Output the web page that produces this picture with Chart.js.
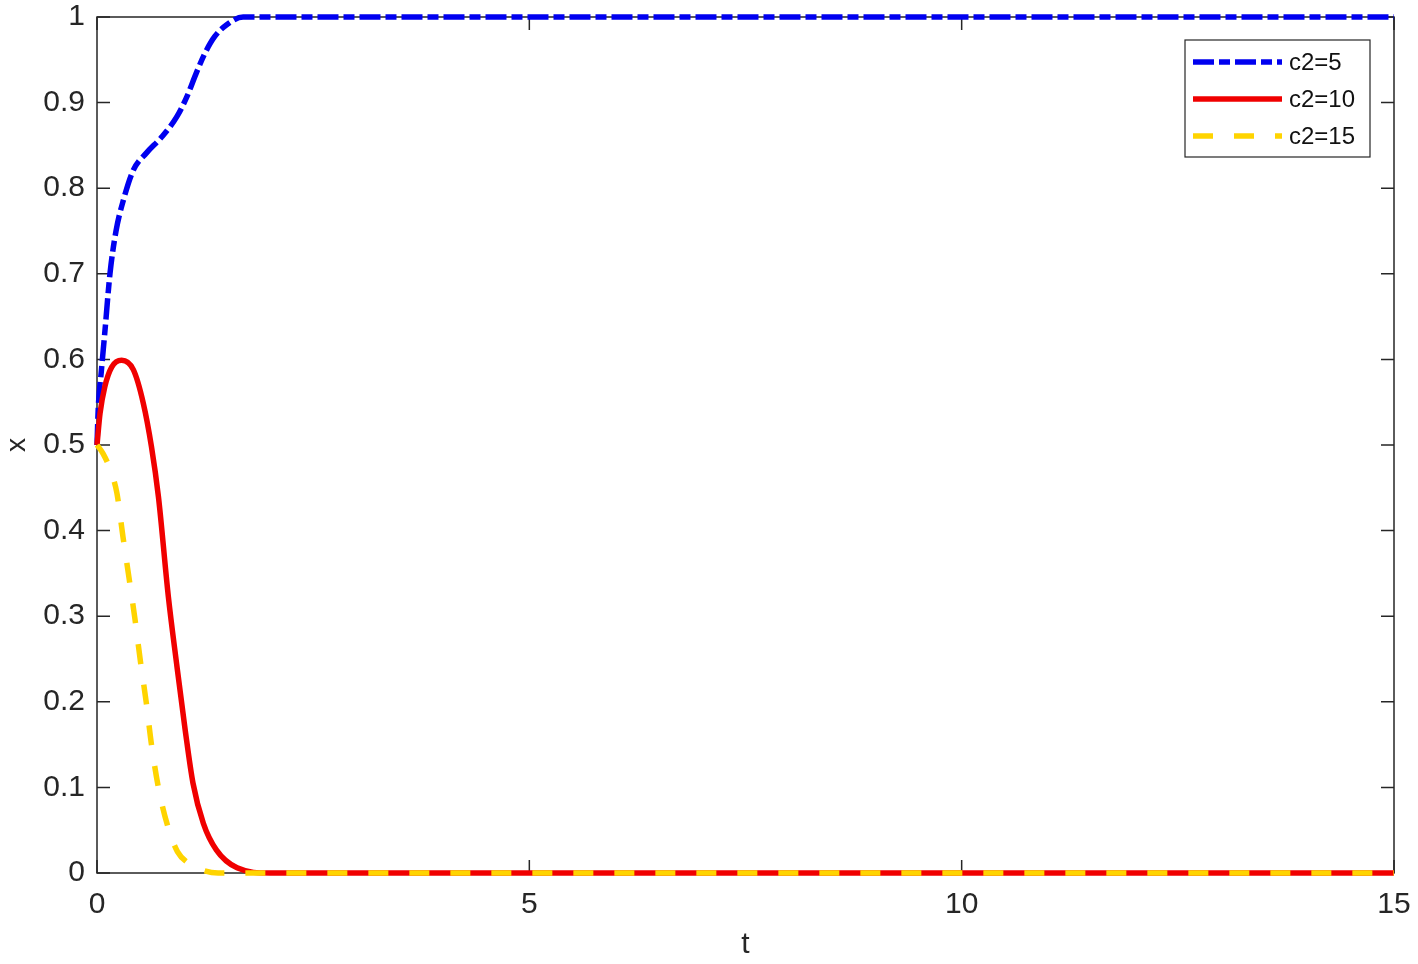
<!DOCTYPE html>
<html lang="en">
<head>
  <meta charset="UTF-8" />
  <title>x over t for c2</title>
  <script src="https://cdn.jsdelivr.net/npm/chart.js"></script>
  <style>
    body { margin: 0; background: #fff; }
    #wrap { width: 1418px; height: 964px; }
  </style>
</head>
<body>
  <div id="wrap"><canvas id="plot" width="1418" height="964"></canvas></div>

  <script>
    // c2=5
    const blueT = [0, 0.015, 0.05, 0.09, 0.15, 0.22, 0.305, 0.42, 0.57, 0.75, 0.92, 1.04, 1.15, 1.25, 1.36, 1.50, 1.69, 2.0, 15];
    const blueX = [0.5, 0.544, 0.586, 0.631, 0.70, 0.75, 0.786, 0.821, 0.841, 0.860, 0.883, 0.907, 0.935, 0.958, 0.977, 0.991, 1.0, 1.0, 1.0];
    // c2=10
    const redT = [0, 0.035, 0.09, 0.17, 0.285, 0.42, 0.535, 0.63, 0.71, 0.825, 0.92, 1.02, 1.11, 1.23, 1.38, 1.62, 2.0, 15];
    const redX = [0.5, 0.537, 0.568, 0.591, 0.599, 0.588, 0.549, 0.498, 0.44, 0.323, 0.245, 0.167, 0.105, 0.058, 0.027, 0.006, 0, 0];
    // c2=15
    const yellowT = [0, 0.07, 0.15, 0.23, 0.30, 0.37, 0.44, 0.50, 0.57, 0.63, 0.71, 0.82, 0.93, 1.05, 1.2, 1.4, 2, 15];
    const yellowX = [0.5, 0.49, 0.472, 0.444, 0.393, 0.345, 0.296, 0.249, 0.199, 0.150, 0.100, 0.054, 0.025, 0.012, 0.004, 0, 0, 0];

    const labels = ['c2=5', 'c2=10', 'c2=15'];
    const xTicks = [0, 5, 10, 15];
    const yTicks = [0, 0.1, 0.2, 0.3, 0.4, 0.5, 0.6, 0.7, 0.8, 0.9, 1];

    const pts = (ts, xs) => ts.map((t, i) => ({ x: t, y: xs[i] }));
    const FONT = 'Arial, "Liberation Sans", sans-serif';
    const INK = '#262626';

    // no extra room for overhanging tick labels, only layout.padding counts
    const noPad = s => { s.paddingTop = 0; s.paddingBottom = 0; s.paddingLeft = 0; s.paddingRight = 0; };

    // box + inward ticks on all four sides, like the original figure
    const frame = {
      id: 'frame',
      beforeDatasetsDraw(chart) {
        const { ctx, chartArea: a, scales } = chart;
        ctx.save();
        ctx.strokeStyle = INK;
        ctx.lineWidth = 1.5;
        ctx.strokeRect(a.left, a.top, a.right - a.left, a.bottom - a.top);
        const len = 13;
        ctx.beginPath();
        xTicks.forEach(v => {
          const px = scales.x.getPixelForValue(v);
          ctx.moveTo(px, a.bottom); ctx.lineTo(px, a.bottom - len);
          ctx.moveTo(px, a.top); ctx.lineTo(px, a.top + len);
        });
        yTicks.forEach(v => {
          const py = scales.y.getPixelForValue(v);
          ctx.moveTo(a.left, py); ctx.lineTo(a.left + len, py);
          ctx.moveTo(a.right, py); ctx.lineTo(a.right - len, py);
        });
        ctx.stroke();
        ctx.restore();
      },
      afterDraw(chart) {
        // legend box in the upper right corner
        const { ctx, chartArea: a } = chart;
        const bx = a.right - 209, by = a.top + 23, bw = 185, bh = 117;
        ctx.save();
        ctx.fillStyle = '#fff';
        ctx.fillRect(bx, by, bw, bh);
        ctx.strokeStyle = INK;
        ctx.lineWidth = 1.2;
        ctx.strokeRect(bx, by, bw, bh);
        chart.data.datasets.forEach((ds, i) => {
          const y = by + 22 + i * 37;
          ctx.strokeStyle = ds.borderColor;
          ctx.lineWidth = ds.borderWidth;
          ctx.setLineDash(ds.borderDash || []);
          ctx.beginPath();
          ctx.moveTo(bx + 8, y);
          ctx.lineTo(bx + 97, y);
          ctx.stroke();
          ctx.setLineDash([]);
          ctx.fillStyle = '#111';
          ctx.font = '24px ' + FONT;
          ctx.textBaseline = 'middle';
          ctx.fillText(ds.label, bx + 104, y + 1);
        });
        ctx.restore();
      }
    };

    new Chart(document.getElementById('plot'), {
      type: 'line',
      data: {
        datasets: [
          { label: labels[0], data: pts(blueT, blueX), borderColor: '#0000f0', borderWidth: 5.5,
            borderDash: [21, 5, 11, 5], order: 2 },
          { label: labels[1], data: pts(redT, redX), borderColor: '#f00000', borderWidth: 5.5, order: 1 },
          { label: labels[2], data: pts(yellowT, yellowX), borderColor: '#ffd400', borderWidth: 5.5,
            borderDash: [20, 21], order: 0 }
        ]
      },
      options: {
        responsive: false,
        animation: false,
        events: [],
        datasets: { line: { clip: 6 } },
        elements: {
          point: { radius: 0 },
          line: { cubicInterpolationMode: 'monotone', fill: false, borderCapStyle: 'butt' }
        },
        layout: { padding: { top: 17, right: 24, left: 0, bottom: 0 } },
        plugins: { legend: { display: false }, tooltip: { enabled: false } },
        scales: {
          x: {
            type: 'linear', min: 0, max: 15,
            afterBuildTicks: s => { s.ticks = xTicks.map(v => ({ value: v })); },
            afterFit: s => { s.height = 91; noPad(s); },
            grid: { display: false, drawTicks: false },
            border: { display: false },
            ticks: { color: INK, font: { family: FONT, size: 30 }, padding: 14, maxRotation: 0 },
            title: { display: true, text: 't', color: INK, font: { family: FONT, size: 30 },
                     padding: { top: 0, bottom: 1 } }
          },
          y: {
            min: 0, max: 1,
            afterBuildTicks: s => { s.ticks = yTicks.map(v => ({ value: v })); },
            afterFit: s => { s.width = 97; noPad(s); },
            grid: { display: false, drawTicks: false },
            border: { display: false },
            ticks: { color: INK, font: { family: FONT, size: 30 }, padding: 12,
                     callback: v => String(Math.round(v * 10) / 10) },
            title: { display: true, text: 'x', color: INK, font: { family: FONT, size: 28 },
                     padding: { top: 0, bottom: 0 } }
          }
        }
      },
      plugins: [frame]
    });
  </script>
</body>
</html>
